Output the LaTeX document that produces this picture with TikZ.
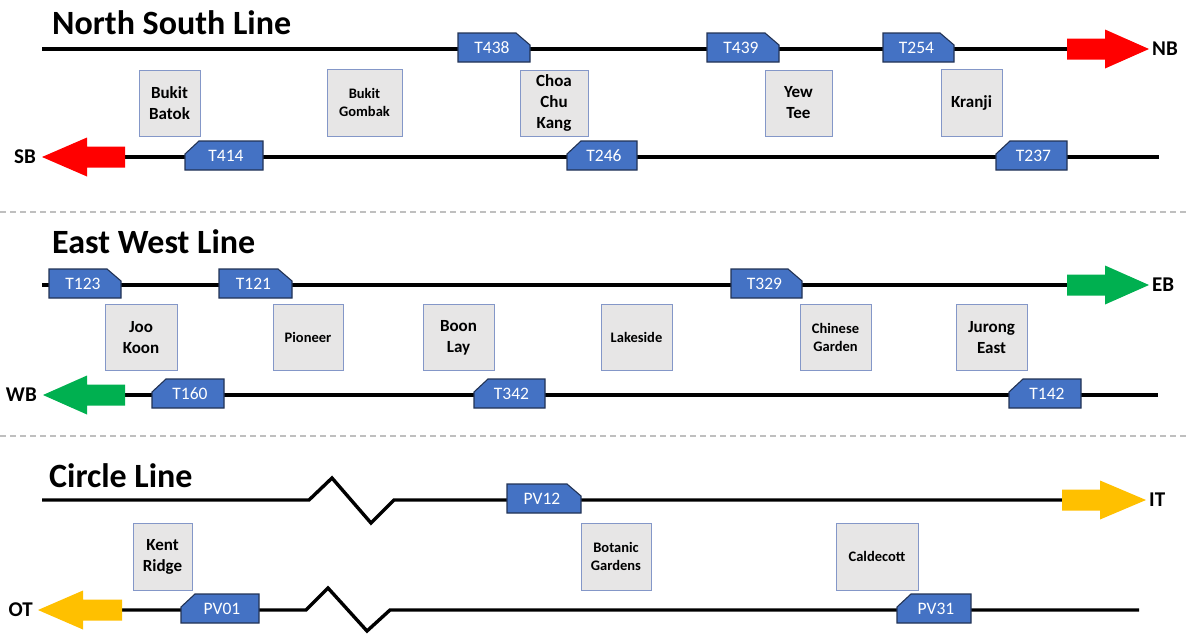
\documentclass[tikz,border=0pt]{standalone}
\usepackage{fontspec}
\setmainfont{Carlito}
\definecolor{trainblue}{HTML}{4472C4}
\definecolor{trainedge}{HTML}{223355}
\definecolor{stfill}{HTML}{E7E6E6}
\definecolor{stedge}{HTML}{8497C8}
\definecolor{arred}{HTML}{FF0000}
\definecolor{argreen}{HTML}{00B050}
\definecolor{aryellow}{HTML}{FFC000}
\definecolor{sepgray}{HTML}{BFBFBF}
\tikzset{
  track/.style={line width=3.4pt, black},
  trainbody/.style={fill=trainblue, draw=trainedge, line width=1.1pt},
  trainlbl/.style={text=white, font=\fontsize{17.5}{19}\selectfont, inner sep=0pt},
  station/.style={fill=stfill, draw=stedge, line width=0.9pt, font=\bfseries\fontsize{17}{21}\selectfont, align=center, inner sep=0pt},
  stsmall/.style={station, font=\bfseries\fontsize{14.5}{17.5}\selectfont},
  dirlbl/.style={font=\bfseries\fontsize{21}{24}\selectfont, inner sep=0pt},
  linetitle/.style={font=\bfseries\fontsize{34}{38}\selectfont, inner sep=0pt, anchor=base west},
  sepline/.style={draw=sepgray, line width=1.3pt, dash pattern=on 6pt off 4pt},
}
% right-facing train: name, x1, x2, line y, label
\newcommand\trainR[5]{%
  \filldraw[trainbody] (#2,#4-16) -- (#3-14,#4-16) -- (#3,#4-4) -- (#3,#4+13) -- (#2,#4+13) -- cycle;
  \node[trainlbl] (#1) at ({(#2+#3)/2-2},#4-1.5) {#5};}
% left-facing train
\newcommand\trainL[5]{%
  \filldraw[trainbody] (#2,#4-3) -- (#2+14,#4-16) -- (#3,#4-16) -- (#3,#4+13) -- (#2,#4+13) -- cycle;
  \node[trainlbl] (#1) at ({(#2+#3)/2+2},#4-1.5) {#5};}
% block arrows: shaft end, head base, tip, y, colour
\newcommand\blockR[5]{%
  \fill[#5] (#1,#4-10.5) -- (#2,#4-10.5) -- (#2,#4-19.5) -- (#3,#4) -- (#2,#4+19.5) -- (#2,#4+10.5) -- (#1,#4+10.5) -- cycle;}
\newcommand\blockL[5]{%
  \fill[#5] (#1,#4-10.5) -- (#2,#4-10.5) -- (#2,#4-19.5) -- (#3,#4) -- (#2,#4+19.5) -- (#2,#4+10.5) -- (#1,#4+10.5) -- cycle;}
\begin{document}
\begin{tikzpicture}[x=1pt,y=-1pt]
\fill[white] (0,0) rectangle (1186,633);
\useasboundingbox (0,0) rectangle (1186,633);

% separators
\coordinate (s1a) at (0,212); \coordinate (s1b) at (1186,212);
\coordinate (s2a) at (0,436); \coordinate (s2b) at (1186,436);
\draw[sepline] (s1a) -- (s1b);
\draw[sepline] (s2a) -- (s2b);

% ===== North South Line =====
\node[linetitle] (nstitle) at (52,34) {North South Line};
\coordinate (nst0) at (42,49); \coordinate (nst1) at (1070,49);
\coordinate (nsb0) at (123,157); \coordinate (nsb1) at (1159,157);
\draw[track] (nst0) -- (nst1);
\draw[track] (nsb0) -- (nsb1);
\blockR{1067}{1105}{1149}{49}{arred}
\blockL{125}{87}{42}{157}{arred}
\node[dirlbl, anchor=west] (nb) at (1152,49) {NB};
\node[dirlbl, anchor=east] (sb) at (36,157) {SB};
\trainR{t438}{458}{530}{49}{T438}
\trainR{t439}{707}{779}{49}{T439}
\trainR{t254}{883}{954}{49}{T254}
\trainL{t414}{185}{263}{157}{T414}
\trainL{t246}{567}{637}{157}{T246}
\trainL{t237}{996}{1067}{157}{T237}
\node[station, minimum width=61, minimum height=66] (bukitbatok) at (169.5,103) {Bukit\\Batok};
\node[stsmall, minimum width=75, minimum height=67] (bukitgombak) at (364.5,102.5) {Bukit\\Gombak};
\node[station, minimum width=68, minimum height=66] (ccktext) at (554,103) {Choa\\Chu\\Kang};
\node[station, minimum width=67, minimum height=66] (yewtee) at (798.5,103) {Yew\\Tee};
\node[station, minimum width=61, minimum height=67] (kranji) at (971.5,102.5) {Kranji};

% ===== East West Line =====
\node[linetitle] (ewtitle) at (52,253.5) {East West Line};
\coordinate (ewt0) at (42,285); \coordinate (ewt1) at (1070,285);
\coordinate (ewb0) at (123,395); \coordinate (ewb1) at (1158,395);
\draw[track] (ewt0) -- (ewt1);
\draw[track] (ewb0) -- (ewb1);
\blockR{1067}{1105}{1149}{285}{argreen}
\blockL{125}{87}{43}{395}{argreen}
\node[dirlbl, anchor=west] (eb) at (1152,285) {EB};
\node[dirlbl, anchor=east] (wb) at (37,395) {WB};
\trainR{t123}{49}{121}{285}{T123}
\trainR{t121}{219}{292}{285}{T121}
\trainR{t329}{731}{802}{285}{T329}
\trainL{t160}{152}{224}{395}{T160}
\trainL{t342}{474}{545}{395}{T342}
\trainL{t142}{1009}{1081}{395}{T142}
\node[station, minimum width=72, minimum height=66] (jookoon) at (141,337.5) {Joo\\Koon};
\node[stsmall, minimum width=70, minimum height=66] (pioneer) at (308,337.5) {Pioneer};
\node[station, minimum width=71, minimum height=66] (boonlay) at (458.5,337.5) {Boon\\Lay};
\node[stsmall, minimum width=71, minimum height=66] (lakeside) at (636.5,337.5) {Lakeside};
\node[stsmall, minimum width=71, minimum height=66] (chinesegarden) at (835.5,337.5) {Chinese\\Garden};
\node[station, minimum width=71, minimum height=66] (jurongeast) at (991.5,337.5) {Jurong\\East};

% ===== Circle Line =====
\node[linetitle] (cltitle) at (49,487.7) {Circle Line};
\coordinate (clt0) at (42,500); \coordinate (clt1) at (1065,500);
\coordinate (clb0) at (120,610); \coordinate (clb1) at (1139,610);
\draw[track] (clt0) -- (309,500) -- (332,478) -- (371,523) -- (394,500) -- (clt1);
\draw[track] (clb0) -- (306,610) -- (328,588) -- (367,631) -- (390,610) -- (clb1);
\blockR{1062}{1100}{1146}{500}{aryellow}
\blockL{122}{83}{38}{610}{aryellow}
\node[dirlbl, anchor=west] (it) at (1149,500) {IT};
\node[dirlbl, anchor=east] (ot) at (33,610) {OT};
\trainR{pv12}{507}{581}{500}{PV12}
\trainL{pv01}{181}{259}{610}{PV01}
\trainL{pv31}{897}{971}{610}{PV31}
\node[station, minimum width=59, minimum height=67] (kentridge) at (162.5,556.5) {Kent\\Ridge};
\node[stsmall, minimum width=70, minimum height=67] (botanic) at (616,556.5) {Botanic\\Gardens};
\node[stsmall, minimum width=82, minimum height=67] (caldecott) at (877,556.5) {Caldecott};
\end{tikzpicture}
\end{document}
